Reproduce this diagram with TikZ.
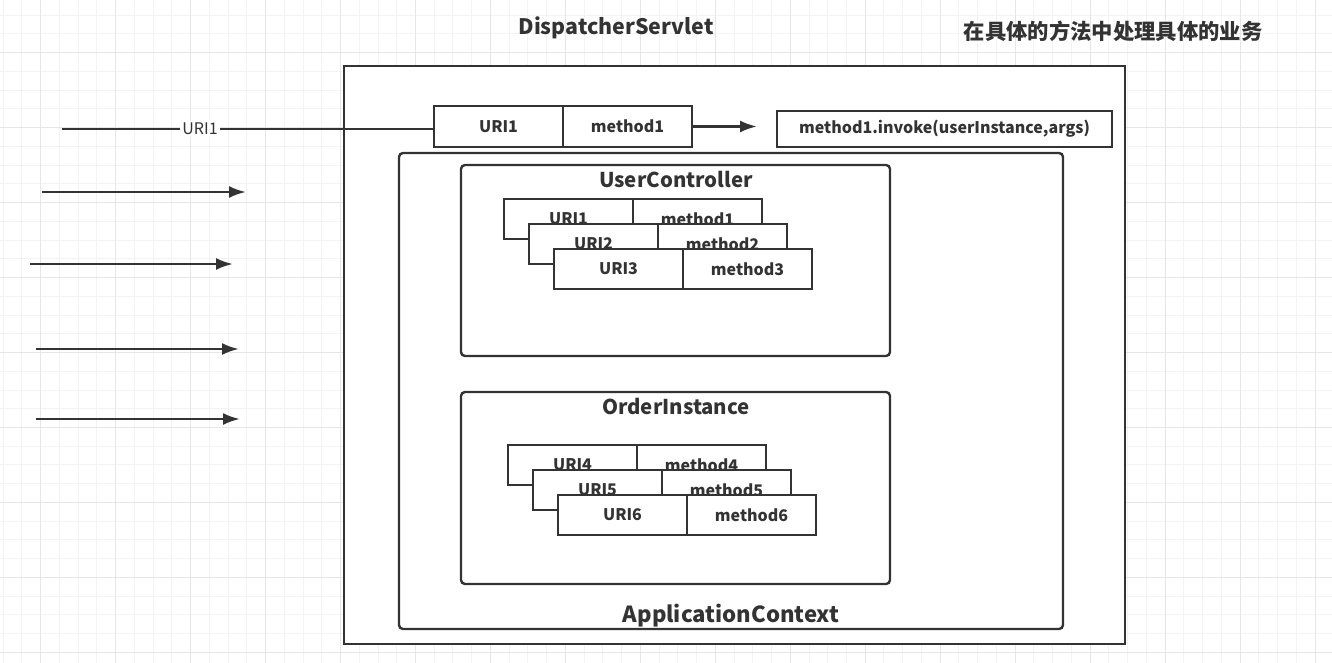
\documentclass[tikz,border=0pt]{standalone}
\usepackage{fontspec}
\setmainfont{Noto Sans CJK SC}
\usetikzlibrary{arrows.meta}
\definecolor{ink}{HTML}{333333}
\definecolor{gridminor}{HTML}{F3F3F3}
\definecolor{gridmajor}{HTML}{E6E6E6}
\tikzset{
  minorline/.style={draw=gridminor,line width=0.75pt},
  majorline/.style={draw=gridmajor,line width=0.8pt},
  cell/.style={draw=ink,fill=white,line width=1.8pt,minimum width=96.75pt,minimum height=30pt,inner sep=0pt,outer sep=0pt,text=ink,font=\bfseries\fontsize{12}{14}\selectfont},
  bigbox/.style={draw=ink,fill=white,line width=1.8pt,rounded corners=3pt},
  outerbox/.style={draw=ink,fill=white,line width=2pt},
  title/.style={text=ink,font=\bfseries\fontsize{16}{19}\selectfont,inner sep=0pt},
  bottomtitle/.style={text=ink,font=\bfseries\fontsize{16.6}{19}\selectfont,inner sep=0pt},
  subtitle/.style={text=ink,font=\bfseries\fontsize{15.3}{18}\selectfont,inner sep=0pt},
  arr/.style={draw=ink,line width=1.9pt,-{Latex[length=12.75pt,width=9pt]}},
  plainline/.style={draw=ink,line width=1.9pt},
  edgelabel/.style={fill=white,text=ink,font=\fontsize{12}{14}\selectfont,inner sep=1.5pt}
}
\begin{document}
\begin{tikzpicture}[x=0.75pt,y=-0.75pt]
\useasboundingbox (0,0) rectangle (1332,663);
\fill[white] (0,0) rectangle (1332,663);
% grid
\foreach \i in {0,...,71} {\draw[minorline] ({3.2+18.74*\i},0) -- ({3.2+18.74*\i},663);}
\foreach \i in {0,...,36} {\draw[minorline] (0,{15.2+18.74*\i}) -- (1332,{15.2+18.74*\i});}
\foreach \i in {0,...,17} {\draw[majorline] ({40.7+74.96*\i},0) -- ({40.7+74.96*\i},663);}
\foreach \i in {0,...,8} {\draw[majorline] (0,{52.7+74.96*\i}) -- (1332,{52.7+74.96*\i});}

% titles
\node[title] (ds) at (616,28) {DispatcherServlet};
\node[title] (cn) at (1113,31) {在具体的方法中处理具体的业务};

% outer box
\draw[outerbox] (344,66) rectangle (1125,644);
\draw[bigbox] (399,153) rectangle (1063,629);
\node[bottomtitle] (ac) at (731,616) {ApplicationContext};

% top row
\node[cell,minimum height=30.75pt,anchor=north west] (u0) at (434,106) {URI1};
\node[cell,minimum height=30.75pt,anchor=north west] (m0) at (u0.north east) {method1};
\node[cell,minimum width=251.25pt,minimum height=27pt,anchor=north west] (inv) at (777,111) {method1.invoke(userInstance,args)};
\draw[arr,shorten >=15pt] (m0.east) -- (m0.east -| inv.west);

% incoming line with label
\coordinate (s0) at (62,129);
\draw[plainline] (s0) -- node[edgelabel,pos=0.371] (lbl) {URI1} (s0 -| u0.west);

% incoming arrows
\coordinate (s1) at (42,192); \coordinate (e1) at (246,192);
\coordinate (s2) at (30,264); \coordinate (e2) at (233,264);
\coordinate (s3) at (36,349); \coordinate (e3) at (239,349);
\coordinate (s4) at (36,419); \coordinate (e4) at (240,419);
\draw[arr] (s1) -- (e1);
\draw[arr] (s2) -- (e2);
\draw[arr] (s3) -- (e3);
\draw[arr] (s4) -- (e4);

% UserController
\draw[bigbox] (461,165) rectangle (890,356);
\node[subtitle] (uc) at (676,179) {UserController};
\node[cell,anchor=north west] (u1) at (504,199) {URI1};
\node[cell,anchor=north west] (m1) at (u1.north east) {method1};
\node[cell,anchor=north west] (u2) at (529,224) {URI2};
\node[cell,anchor=north west] (m2) at (u2.north east) {method2};
\node[cell,anchor=north west] (u3) at (554,249) {URI3};
\node[cell,anchor=north west] (m3) at (u3.north east) {method3};

% OrderInstance
\draw[bigbox] (461,392) rectangle (890,584);
\node[subtitle] (oi) at (676,406) {OrderInstance};
\node[cell,anchor=north west] (u4) at (508,445) {URI4};
\node[cell,anchor=north west] (m4) at (u4.north east) {method4};
\node[cell,anchor=north west] (u5) at (533,470) {URI5};
\node[cell,anchor=north west] (m5) at (u5.north east) {method5};
\node[cell,anchor=north west] (u6) at (558,495) {URI6};
\node[cell,anchor=north west] (m6) at (u6.north east) {method6};
\end{tikzpicture}
\end{document}
